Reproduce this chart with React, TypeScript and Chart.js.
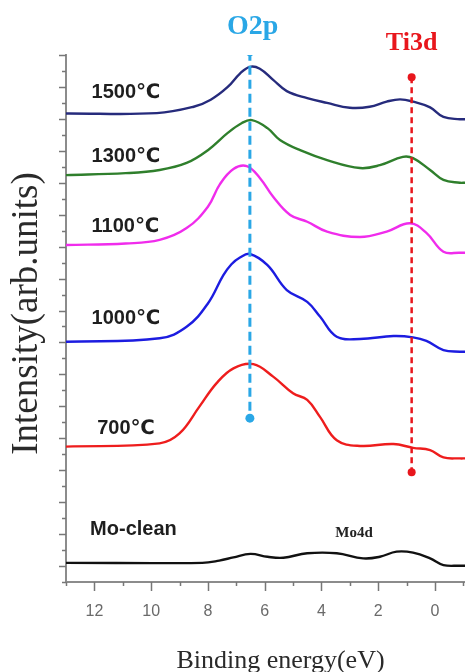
import React, { useEffect, useRef } from "react";
import { Chart, registerables } from "chart.js";

Chart.register(...registerables);

// ---------- data (binding energy in eV, intensity in arb. units with vertical offsets) ----------
const e1500 = [13, 9.8, 8.5, 7.9, 7.3, 6.87, 6.52, 6.17, 5.7, 5.22, 4.5, 3.8, 3.0, 2.3, 1.7, 1.23, 0.77, 0.17, -0.3, -0.88, -1.06];
const i1500 = [14.17, 14.18, 14.38, 14.6, 15.0, 15.42, 15.63, 15.57, 15.22, 14.87, 14.65, 14.5, 14.35, 14.38, 14.54, 14.61, 14.54, 14.36, 14.06, 13.99, 13.99];

const e1300 = [13, 10.9, 9.7, 8.75, 8.0, 7.3, 6.8, 6.45, 5.9, 5.46, 4.75, 3.8, 2.64, 1.94, 1.13, 0.77, 0.17, -0.3, -0.88, -1.06];
const i1300 = [12.24, 12.3, 12.4, 12.62, 13.02, 13.56, 13.87, 13.96, 13.71, 13.34, 13.02, 12.71, 12.46, 12.55, 12.81, 12.77, 12.4, 12.09, 12.0, 12.0];

const e1100 = [13, 10.9, 9.7, 8.75, 8.0, 7.58, 7.1, 6.63, 6.17, 5.7, 5.1, 4.5, 3.8, 2.64, 1.7, 0.88, 0.3, -0.3, -0.88, -1.06];
const i1100 = [10.05, 10.1, 10.21, 10.58, 11.25, 11.95, 12.43, 12.52, 12.15, 11.56, 10.99, 10.78, 10.47, 10.3, 10.47, 10.73, 10.43, 9.84, 9.81, 9.81];

const e1000 = [13, 9.7, 8.75, 8.0, 7.46, 7.17, 6.87, 6.52, 5.9, 5.22, 4.5, 4.05, 3.46, 2.64, 1.46, 0.77, 0.3, -0.3, -0.88, -1.06];
const i1000 = [7.02, 7.13, 7.49, 8.22, 9.1, 9.45, 9.66, 9.77, 9.42, 8.64, 8.27, 7.81, 7.18, 7.11, 7.2, 7.16, 7.05, 6.76, 6.71, 6.71];

const e700 = [13, 9.7, 9.0, 8.3, 7.7, 7.1, 6.4, 5.7, 5.0, 4.5, 4.05, 3.46, 2.64, 1.46, 0.77, 0.17, -0.3, -0.88, -1.06];
const i700 = [3.74, 3.84, 4.15, 4.99, 5.72, 6.19, 6.32, 5.93, 5.41, 5.2, 4.67, 3.94, 3.76, 3.82, 3.7, 3.63, 3.4, 3.37, 3.37];

const eMo = [13, 8.2, 7.6, 7.1, 6.5, 5.9, 5.34, 4.5, 3.46, 2.53, 1.94, 1.35, 0.77, 0.17, -0.3, -0.88, -1.06];
const iMo = [0.1, 0.1, 0.17, 0.27, 0.38, 0.29, 0.26, 0.4, 0.4, 0.24, 0.29, 0.45, 0.42, 0.24, 0.03, 0.01, 0.01];

const seriesNames = ["1500℃", "1300℃", "1100℃", "1000℃", "700℃", "Mo-clean"];
const seriesColors = ["#262b7c", "#2f7f2c", "#f02cec", "#1c1ce0", "#ee1d1d", "#111111"];
const seriesEnergies = [e1500, e1300, e1100, e1000, e700, eMo];
const seriesIntensities = [i1500, i1300, i1100, i1000, i700, iMo];

// label anchor positions (eV, intensity)
const labelEnergy = [12.1, 12.1, 12.1, 12.1, 11.9, 12.15];
const labelIntensity = [14.84, 12.81, 10.64, 7.76, 4.32, 1.13];

// marker lines: O2p and Ti3d
const o2pEnergy = 6.52;
const o2pRange = [16.1, 4.63];
const ti3dEnergy = 0.82;
const ti3dRange = [15.3, 2.94];
const markerNames = ["O2p", "Ti3d"];
const markerLabelIntensity = [16.88, 16.37];

const mo4dEnergy = 2.85;
const mo4dIntensity = 1.03;

// axes
const xMin = -1.06;
const xMax = 13;
const yMin = -0.5;
const yMax = 16;
const xTickValues = [-1, 0, 1, 2, 3, 4, 5, 6, 7, 8, 9, 10, 11, 12, 13];
const xMajorTicks = [0, 2, 4, 6, 8, 10, 12];
const yTickValues = Array.from({ length: 34 }, (_, k) => -0.5 + k * 0.5);
const xTitle = "Binding energy(eV)";
const yTitle = "Intensity(arb.units)";

const W = 465;
const H = 672;

export default function App() {
  const ref = useRef<HTMLCanvasElement | null>(null);

  useEffect(() => {
    const canvas = ref.current;
    if (!canvas) return;

    const datasets: any[] = [];
    datasets.push({
      label: markerNames[0],
      data: [
        { x: o2pEnergy, y: o2pRange[0] },
        { x: o2pEnergy, y: o2pRange[1] },
      ],
      borderColor: "#2aa7e6",
      backgroundColor: "#2aa7e6",
      borderWidth: 3,
      borderDash: [9, 5],
      pointRadius: 4.5,
      pointBorderWidth: 0,
      tension: 0,
      order: 0,
    });
    datasets.push({
      label: markerNames[1],
      data: [
        { x: ti3dEnergy, y: ti3dRange[0] },
        { x: ti3dEnergy, y: ti3dRange[1] },
      ],
      borderColor: "#e8161c",
      backgroundColor: "#e8161c",
      borderWidth: 2.5,
      borderDash: [6, 4],
      pointRadius: 4,
      pointBorderWidth: 0,
      tension: 0,
      order: 0,
    });
    seriesNames.forEach((name, s) => {
      datasets.push({
        label: name,
        data: seriesEnergies[s].map((e, k) => ({ x: e, y: seriesIntensities[s][k] })),
        borderColor: seriesColors[s],
        backgroundColor: seriesColors[s],
        borderWidth: 2.4,
        pointRadius: 0,
        tension: 0.4,
        order: 1,
      });
    });

    const decor = {
      id: "decor",
      afterDraw(chart: any) {
        const ctx = chart.ctx;
        const xs = chart.scales.x;
        const ys = chart.scales.y;
        const area = chart.chartArea;
        ctx.save();
        // ticks
        ctx.strokeStyle = "#777";
        ctx.lineWidth = 1.5;
        xTickValues.forEach((v) => {
          const px = Math.round(xs.getPixelForValue(v)) + 0.5;
          const len = xMajorTicks.includes(v) ? 9 : 4;
          ctx.beginPath();
          ctx.moveTo(px, area.bottom);
          ctx.lineTo(px, area.bottom + len);
          ctx.stroke();
        });
        yTickValues.forEach((v) => {
          const py = Math.round(ys.getPixelForValue(v)) + 0.5;
          const len = Number.isInteger(v) ? 7 : 4;
          ctx.beginPath();
          ctx.moveTo(area.left - len, py);
          ctx.lineTo(area.left, py);
          ctx.stroke();
        });

        // series labels
        ctx.fillStyle = "#1e1e1e";
        ctx.textBaseline = "middle";
        ctx.textAlign = "left";
        seriesNames.forEach((name, s) => {
          ctx.font = "bold 20px 'Liberation Sans', Arial, 'DejaVu Sans', sans-serif";
          ctx.fillText(name, xs.getPixelForValue(labelEnergy[s]), ys.getPixelForValue(labelIntensity[s]));
        });

        // Mo4d
        ctx.textAlign = "center";
        ctx.font = "bold 15px 'Liberation Serif', serif";
        ctx.fillStyle = "#222";
        ctx.fillText("Mo4d", xs.getPixelForValue(mo4dEnergy), ys.getPixelForValue(mo4dIntensity));

        // marker labels
        ctx.font = "bold 28px 'Liberation Serif', serif";
        ctx.fillStyle = "#2aa7e6";
        ctx.fillText(markerNames[0], xs.getPixelForValue(o2pEnergy - 0.1), ys.getPixelForValue(markerLabelIntensity[0]));
        ctx.font = "bold 26px 'Liberation Serif', serif";
        ctx.fillStyle = "#e8161c";
        ctx.fillText(markerNames[1], xs.getPixelForValue(ti3dEnergy), ys.getPixelForValue(markerLabelIntensity[1]));

        // axis titles
        ctx.fillStyle = "#2a2a2a";
        ctx.font = "26px 'Liberation Serif', serif";
        ctx.fillText(xTitle, (area.left + area.right) / 2 + 15, area.bottom + 79);
        ctx.save();
        ctx.translate(27, (area.top + area.bottom) / 2 - 5);
        ctx.rotate(-Math.PI / 2);
        ctx.font = "37px 'Liberation Serif', serif";
        ctx.fillText(yTitle, 0, 0);
        ctx.restore();

        ctx.restore();
      },
    };

    const chart = new Chart(canvas, {
      type: "line",
      data: { datasets },
      options: {
        animation: false,
        responsive: false,
        maintainAspectRatio: false,
        devicePixelRatio: 1,
        layout: { autoPadding: false, padding: { top: 55, right: 0, left: 0, bottom: 0 } },
        plugins: { legend: { display: false }, tooltip: { enabled: false }, title: { display: false } },
        scales: {
          x: {
            type: "linear",
            position: "bottom",
            reverse: true,
            min: xMin,
            max: xMax,
            afterBuildTicks: (scale: any) => {
              scale.ticks = xTickValues.map((v) => ({ value: v }));
            },
            afterFit: (scale: any) => {
              scale.height = H - 582;
              scale.paddingLeft = 0;
              scale.paddingRight = 0;
            },
            grid: { display: false, drawTicks: false },
            border: { display: true, color: "#8c8c8c", width: 2 },
            ticks: {
              autoSkip: false,
              maxRotation: 0,
              padding: 20,
              color: "#6a6a6a",
              font: { size: 16, family: "'Liberation Sans', Arial, sans-serif" },
              callback: (v: any) => (xMajorTicks.includes(Number(v)) ? String(v) : ""),
            },
          },
          y: {
            type: "linear",
            position: "left",
            min: yMin,
            max: yMax,
            afterFit: (scale: any) => {
              scale.width = 66;
              scale.paddingTop = 0;
              scale.paddingBottom = 0;
            },
            grid: { display: false, drawTicks: false },
            border: { display: true, color: "#8c8c8c", width: 2 },
            ticks: { display: false },
          },
        },
      },
      plugins: [decor],
    });

    return () => chart.destroy();
  }, []);

  return (
    <div style={{ position: "absolute", left: 0, top: 0, width: W, height: H, background: "#fff" }}>
      <canvas ref={ref} width={W} height={H} style={{ display: "block", width: W, height: H }} />
    </div>
  );
}
